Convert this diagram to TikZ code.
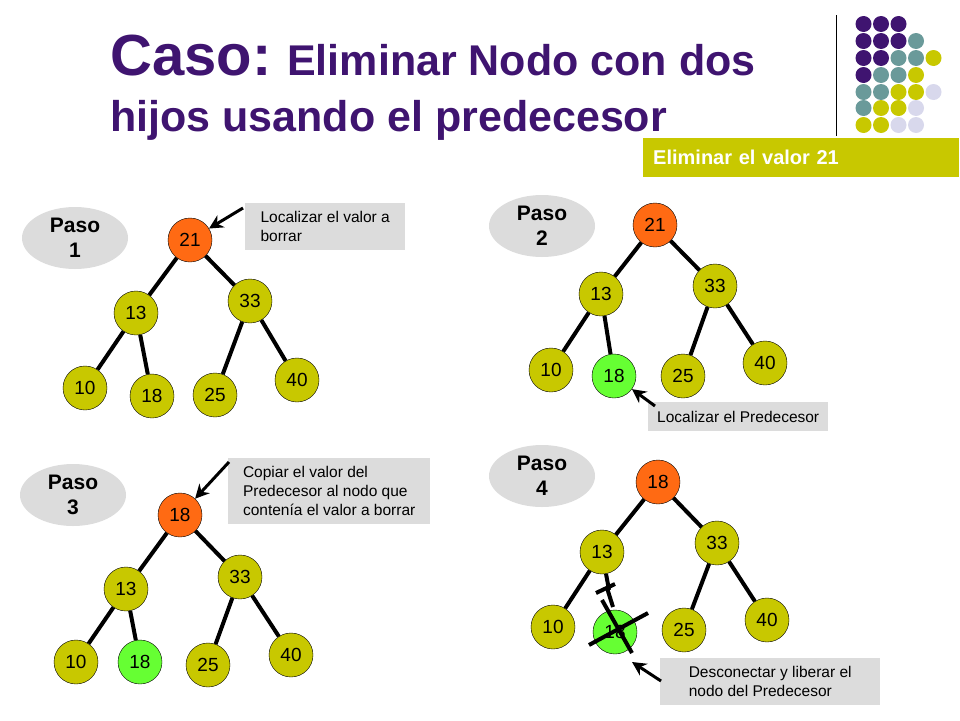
\documentclass[tikz,border=0pt]{standalone}
\usepackage{fontspec}
\setmainfont{Liberation Sans}
\usetikzlibrary{arrows.meta}
\definecolor{olive}{HTML}{C8C800}
\definecolor{purp}{HTML}{3F1470}
\definecolor{teal2}{HTML}{6A9A9A}
\definecolor{lav}{HTML}{D8D8EC}
\definecolor{orng}{HTML}{FF6A13}
\definecolor{grn}{HTML}{66FF33}
\definecolor{boxgray}{HTML}{DCDCDC}
\tikzset{
  tnode/.style={draw=black,circle,fill=olive,minimum size=44pt,inner sep=0pt,font=\fontsize{19}{21}\selectfont},
  root/.style={tnode,fill=orng},
  pred/.style={tnode,fill=grn},
  edge/.style={line width=4pt},
  paso/.style={ellipse,fill=boxgray,minimum width=106pt,minimum height=62pt,inner sep=0pt,align=center,font=\bfseries\fontsize{21}{25}\selectfont},
  note/.style={fill=boxgray,anchor=north west,align=left,inner sep=8pt,font=\fontsize{15.5}{19}\selectfont},
  pointer/.style={line width=3pt,-{Stealth[length=14pt,width=14pt]}},
  dot/.style={circle,inner sep=0pt,minimum size=16pt}
}
\usetikzlibrary{shapes.geometric}
\begin{document}
\begin{tikzpicture}[x=1pt,y=-1pt]
  \useasboundingbox (0,0) rectangle (960,720);

  % title
  \node[anchor=base west,text=purp,font=\bfseries\fontsize{43}{48}\selectfont,inner sep=0pt] (t1) at (110,75)
    {{\fontsize{58}{60}\selectfont Caso:} Eliminar Nodo con dos};
  \node[anchor=base west,text=purp,font=\bfseries\fontsize{43}{48}\selectfont,inner sep=0pt] (t2) at (110,131)
    {hijos usando el predecesor};

  % corner dots
  \draw[line width=1pt] (836,15) -- (836,136);
  \foreach \c [count=\i] in {purp,purp,purp}{\node[dot,fill=\c] at (846+17.5*\i,24) {};}
  \foreach \c [count=\i] in {purp,purp,purp,teal2}{\node[dot,fill=\c] at (846+17.5*\i,41) {};}
  \foreach \c [count=\i] in {purp,purp,teal2,teal2,olive}{\node[dot,fill=\c] at (846+17.5*\i,58) {};}
  \foreach \c [count=\i] in {purp,teal2,teal2,olive}{\node[dot,fill=\c] at (846+17.5*\i,75) {};}
  \foreach \c [count=\i] in {teal2,teal2,olive,olive,lav}{\node[dot,fill=\c] at (846+17.5*\i,92) {};}
  \foreach \c [count=\i] in {teal2,olive,olive,lav}{\node[dot,fill=\c] at (846+17.5*\i,108) {};}
  \foreach \c [count=\i] in {olive,olive,lav,lav}{\node[dot,fill=\c] at (846+17.5*\i,125) {};}

  \node[fill=olive,text=white,anchor=north west,minimum width=316pt,minimum height=39pt,text depth=0pt,
    font=\bfseries\fontsize{20}{23}\selectfont,inner xsep=10pt,align=left,text width=296pt] (goal) at (643,138)
    {Eliminar el valor 21};

  % paso 1
  \node[paso] (p1) at (75,238) {Paso\\1};
  \node[root] (a21) at (190,240) {21};
  \node[tnode] (a13) at (136,313) {13};
  \node[tnode] (a33) at (250,301) {33};
  \node[tnode] (a10) at (85,388) {10};
  \node[tnode] (a18) at (152,396) {18};
  \node[tnode] (a25) at (215,395) {25};
  \node[tnode] (a40) at (297,380) {40};
  \node[note,minimum width=160pt] (n1) at (245,203) {Localizar el valor a\\borrar};
  \coordinate (n1s) at (243,208);

  % paso 2
  \node[paso] (p2) at (542,226) {Paso\\2};
  \node[root] (b21) at (655,225) {21};
  \node[tnode] (b13) at (601,294) {13};
  \node[tnode] (b33) at (715,286) {33};
  \node[tnode] (b10) at (551,370) {10};
  \node[pred] (b18) at (614,376) {18};
  \node[tnode] (b25) at (683,376) {25};
  \node[tnode] (b40) at (765,363) {40};
  \node[note,minimum width=180pt,minimum height=29pt,inner ysep=3pt] (n2) at (648,402) {Localizar el Predecesor};
  \coordinate (n2s) at (655,406);

  % paso 3
  \node[paso] (p3) at (73,495) {Paso\\3};
  \node[root] (c18r) at (180,515) {18};
  \node[tnode] (c13) at (126,589) {13};
  \node[tnode] (c33) at (240,577) {33};
  \node[tnode] (c10) at (76,662) {10};
  \node[pred] (c18) at (140,662) {18};
  \node[tnode] (c25) at (208,665) {25};
  \node[tnode] (c40) at (291,655) {40};
  \node[note,minimum width=202pt] (n3) at (228,458) {Copiar el valor del\\Predecesor al nodo que\\contenía el valor a borrar};
  \coordinate (n3s) at (229,462);

  % paso 4
  \node[paso] (p4) at (542,476) {Paso\\4};
  \node[root] (d18r) at (658,482) {18};
  \node[tnode] (d13) at (602,552) {13};
  \node[tnode] (d33) at (717,543) {33};
  \node[tnode] (d10) at (553,627) {10};
  \node[pred] (d18) at (615,632) {18};
  \node[tnode] (d25) at (684,630) {25};
  \node[tnode] (d40) at (767,620) {40};
  \node[note,minimum width=220pt] (n4) at (660,658) {Desconectar y liberar el\\nodo del Predecesor};
  \coordinate (n4s) at (661,681);
  \coordinate (cut) at (609,590);

  % edges
  \foreach \t in {a,b}{
    \draw[edge] (\t21) -- (\t13);
    \draw[edge] (\t21) -- (\t33);
    \draw[edge] (\t13) -- (\t10);
    \draw[edge] (\t13) -- (\t18);
    \draw[edge] (\t33) -- (\t25);
    \draw[edge] (\t33) -- (\t40);
  }
  \foreach \t in {c,d}{
    \draw[edge] (\t18r) -- (\t13);
    \draw[edge] (\t18r) -- (\t33);
    \draw[edge] (\t13) -- (\t10);
    \draw[edge] (\t33) -- (\t25);
    \draw[edge] (\t33) -- (\t40);
  }
  \draw[edge] (c13) -- (c18);
  \draw[edge] (d13) -- (cut);
  \draw[edge] (596,593) -- (615,584);
  \draw[edge] (607,588) -- (613,607);
  \draw[edge] (602,600) -- (632,653);
  \draw[edge] (589,645) -- (648,613);

  % pointers
  \draw[pointer] (n1s) -- (a21);
  \draw[pointer] (n2s) -- (b18);
  \draw[pointer] (n3s) -- (c18r);
  \draw[pointer] (n4s) -- (632,662);
\end{tikzpicture}
\end{document}
